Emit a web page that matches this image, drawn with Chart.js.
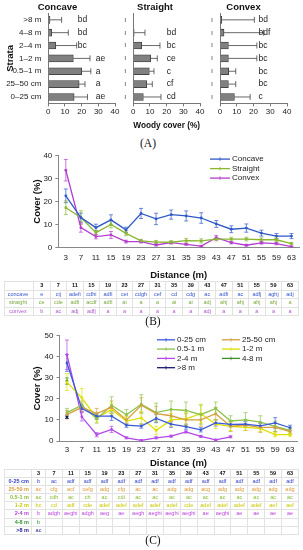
<!DOCTYPE html>
<html>
<head>
<meta charset="utf-8">
<script src="https://cdn.jsdelivr.net/npm/chart.js@4.4.1/dist/chart.umd.min.js"></script>
<style>
  body { margin: 0; background: #fff; font-family: "Liberation Sans", Arial, sans-serif; }
  #page { position: relative; width: 303px; height: 550px; overflow: hidden; background: #fff; }
  canvas { position: absolute; }
  .tag { position: absolute; left: 0; font-family: "Liberation Serif", serif; font-size: 11.5px; line-height: 14px; color: #111; text-align: center; }
  table { position: absolute; border-collapse: collapse; table-layout: fixed; font-size: 5.5px; }
  td { border: 1px solid #e2e2e2; padding: 0; text-align: center; white-space: nowrap; overflow: hidden; }
  th { font-weight: bold; }
</style>
</head>
<body>
<div id="page">
  <canvas id="concave" width="125" height="120" style="left:0;top:0"></canvas>
  <canvas id="straight" width="100" height="132" style="left:110px;top:0"></canvas>
  <canvas id="convex" width="103" height="120" style="left:200px;top:0"></canvas>
  <div class="tag" style="top:136px;width:296px">(A)</div>
  <canvas id="slopeLines" width="303" height="134" style="left:0;top:148px"></canvas>
  <table id="tableB" style="left:4px;top:281px;width:294px"></table>
  <div class="tag" style="top:314px;width:306px">(B)</div>
  <canvas id="strataLines" width="303" height="141" style="left:0;top:328px"></canvas>
  <table id="tableC" style="left:4px;top:469px;width:294px"></table>
  <div class="tag" style="top:533px;width:306px">(C)</div>
</div>
<script>
// ---- (A) woody cover by strata ----
const strata = ['>8 m', '4–8 m', '2–4 m', '1–2 m', '0.5–1 m', '25–50 cm', '0–25 cm'];
const concaveWoody = [1, 2, 4.5, 15, 20, 18.5, 15.5];
const concaveWoodySE = [7, 10, 12.5, 10, 5.5, 3.5, 8];
const concaveLetters = ['bd', 'bd', 'bc', 'ae', 'a', 'a', 'ae'];
const straightWoody = [0, 0.5, 5, 10.4, 9.6, 8, 6];
const straightWoodySE = [0, 6.5, 11, 4, 2.8, 3.4, 10.6];
const straightLetters = ['', 'bd', 'bc', 'ce', 'c', 'cf', 'cd'];
const convexWoody = [1, 2.4, 5, 5, 5.2, 5, 8.6];
const convexWoodySE = [19.5, 23.6, 17, 17, 4.2, 4.4, 9.4];
const convexLetters = ['bd', 'bdf', 'bc', 'bc', 'bc', 'bc', 'c'];
const woodyTicks = [0, 10, 20, 30, 40];

// ---- (B) cover by slope shape along distance ----
const distances = ['3', '7', '11', '15', '19', '23', '27', '31', '35', '39', '43', '47', '51', '55', '59', '63'];
const slopeNames = ['Concave', 'Straight', 'Convex'];
const concaveCover = [22.5, 13, 8.6, 12, 7.6, 14.8, 12.4, 14.3, 13.7, 12.8, 10.2, 7.9, 8.4, 6.2, 4.9, 4.9];
const concaveSE = [3, 2, 1.5, 2.2, 1.2, 2.2, 2.5, 2, 2.2, 2.3, 1.5, 1.5, 1.8, 1.3, 1.1, 1.1];
const straightCover = [17.3, 13, 6.4, 10, 6.1, 2.8, 2.3, 2.2, 2.9, 2.8, 3.6, 3.6, 3.6, 3.3, 3.3, 1.6];
const straightSE = [3, 3, 1, 1.5, 1, 0.7, 0.7, 0.7, 1, 0.9, 0.8, 0.8, 0.8, 0.8, 0.8, 0.5];
const convexCover = [33.7, 8.6, 4.7, 5.4, 2.5, 2.5, 1, 2, 1.3, 0.5, 4.2, 2, 0.9, 1.9, 1.6, 0.3];
const convexSE = [4.7, 2, 1, 1.5, 0.6, 0.6, 0.4, 0.5, 0.4, 0.3, 1, 0.5, 0.4, 0.5, 0.5, 0.2];
const tableBNames = ['concave', 'straight', 'convex'];
const tableBConcave = ['e', 'cij', 'adefi', 'cdhi', 'adfi', 'cei', 'cdgh', 'cef', 'cd', 'cdg', 'ac', 'adfi', 'ac', 'adfj', 'aghj', 'adj'];
const tableBStraight = ['ce', 'cde', 'adfi', 'acdf', 'adfi', 'ai', 'a', 'a', 'ai', 'ai', 'adj', 'ahj', 'ahj', 'ahj', 'ahj', 'a'];
const tableBConvex = ['b', 'ac', 'adj', 'adfj', 'a', 'a', 'a', 'a', 'a', 'a', 'adj', 'a', 'a', 'a', 'a', 'a'];

// ---- (C) cover by stratum along distance ----
const strataNames = ['0-25 cm', '25-50 cm', '0.5-1 m', '1-2 m', '2-4 m', '4-8 m', '>8 m'];
const cover0to25 = [37.1, 15.4, 11.8, 11.8, 7.5, 7.1, 10.7, 8, 6.8, 5.3, 8.6, 7.9, 8, 7.2, 8.6, 6.3];
const se0to25 = [4, 1.5, 1.5, 2, 1, 1, 2, 1.5, 1.2, 1, 1.5, 1.2, 1.2, 1.2, 2.5, 1.2];
const cover25to50 = [12.5, 16, 13, 16, 10, 17, 13, 12, 10, 10, 13, 7, 7.5, 6.5, 6.5, 4.5];
const se25to50 = [2, 2, 2.5, 3, 2, 3.5, 3.5, 3, 3, 3, 3, 2.5, 2.5, 2.5, 2, 1.5];
const cover05to1 = [13.5, 17, 10.5, 17, 12.5, 17.5, 13.5, 15, 14.5, 12.5, 15.5, 9.5, 10, 9, 7, 5];
const se05to1 = [2, 2, 2, 4, 2.5, 4.5, 4.5, 4, 4, 4.5, 3, 2.5, 3.5, 3, 2.5, 1.5];
const cover1to2 = [28, 20.5, 11, 15, 9.5, 11, 5, 10, 10.5, 13, 8, 7, 6.5, 6, 3, 3];
const se1to2 = [4, 4.5, 2, 3, 2, 3, 2, 3, 3, 4.5, 2, 2, 1.5, 1.5, 1, 0.8];
const cover2to4 = [41, 11.5, 3, 5.5, 1.5, 0.3, 1.5, 2.3, 4.3, 2.2, 0.5, 2];
const se2to4 = [7, 2, 1, 1.5, 0.5, 0.3, 0.5, 0.5, 0.5, 0.5, 0.3, 0.5];
const cover4to8 = [28.5];
const se4to8 = [1.5];
const cover8up = [11.5];
const se8up = [0.8];
const tableCNames = ['0-25 cm', '25-50 m', '0.5-1 m', '1-2 m', '2-4 m', '4-8 m', '>8 m'];
const tableC0to25 = ['b', 'ac', 'adf', 'adf', 'adf', 'adf', 'adf', 'adf', 'adf', 'adf', 'adf', 'adf', 'adf', 'adf', 'adf', 'adf'];
const tableC25to50 = ['ac', 'cfg', 'acf', 'cefg', 'adg', 'cfg', 'ac', 'ac', 'adg', 'adg', 'acg', 'adg', 'adg', 'adg', 'adg', 'adg'];
const tableC05to1 = ['ac', 'cdh', 'ac', 'ch', 'ac', 'cdi', 'ac', 'ac', 'ac', 'ac', 'ac', 'ac', 'ac', 'ac', 'ac', 'ac'];
const tableC1to2 = ['bc', 'cd', 'adf', 'cde', 'adef', 'adef', 'adef', 'adef', 'adef', 'cde', 'adef', 'adef', 'adef', 'adef', 'aef', 'aef'];
const tableC2to4 = ['b', 'adgh', 'aeghi', 'adgh', 'aeg', 'ae', 'aegh', 'aeghi', 'aeghi', 'aeghi', 'ae', 'aeghi', 'ae', 'ae', 'ae', 'ae'];
const tableC4to8 = ['b'];
const tableC8up = ['ac'];

Chart.defaults.font.family = '"Liberation Sans", Arial, sans-serif';
Chart.defaults.color = '#222';

// one-sided error bar for horizontal bars
const barErrors = {
  id: 'barErrors',
  afterDatasetsDraw(chart) {
    const ctx = chart.ctx, xs = chart.scales.x;
    chart.data.datasets.forEach((ds, di) => {
      if (!ds.errors) return;
      ctx.save();
      ctx.strokeStyle = '#444';
      ctx.lineWidth = 0.8;
      chart.getDatasetMeta(di).data.forEach((bar, i) => {
        const se = ds.errors[i];
        if (!se) return;
        const x0 = xs.getPixelForValue(ds.data[i]);
        const x1 = xs.getPixelForValue(ds.data[i] + se);
        ctx.beginPath();
        ctx.moveTo(x0, bar.y); ctx.lineTo(x1, bar.y);
        ctx.moveTo(x1, bar.y - 3); ctx.lineTo(x1, bar.y + 3);
        ctx.stroke();
      });
      ctx.restore();
    });
  }
};

// significance letters, put in the first column that clears the error bar
const barLetters = {
  id: 'barLetters',
  afterDatasetsDraw(chart) {
    const ctx = chart.ctx, xs = chart.scales.x;
    chart.data.datasets.forEach((ds, di) => {
      if (!ds.letters) return;
      const cols = ds.letterCols;
      ctx.save();
      ctx.font = '8.5px "Liberation Sans", Arial';
      ctx.fillStyle = '#222';
      ctx.textBaseline = 'middle';
      chart.getDatasetMeta(di).data.forEach((bar, i) => {
        const reach = ds.data[i] + (ds.errors ? ds.errors[i] : 0) + 0.5;
        const col = cols.find(c => c >= reach) ?? cols[cols.length - 1];
        ctx.fillText(ds.letters[i], xs.getPixelForValue(col), bar.y);
      });
      ctx.restore();
    });
  }
};

// +/- error bars on line points
const lineErrors = {
  id: 'lineErrors',
  beforeDatasetsDraw(chart) {
    const ctx = chart.ctx, ys = chart.scales.y;
    chart.data.datasets.forEach((ds, di) => {
      if (!ds.errors) return;
      ctx.save();
      ctx.strokeStyle = ds.borderColor;
      ctx.lineWidth = 0.7;
      chart.getDatasetMeta(di).data.forEach((pt, i) => {
        const v = ds.data[i], e = ds.errors[i];
        if (v == null || !e) return;
        const y0 = ys.getPixelForValue(Math.max(0, v - e));
        const y1 = ys.getPixelForValue(v + e);
        ctx.beginPath();
        ctx.moveTo(pt.x, y0); ctx.lineTo(pt.x, y1);
        ctx.moveTo(pt.x - 2, y0); ctx.lineTo(pt.x + 2, y0);
        ctx.moveTo(pt.x - 2, y1); ctx.lineTo(pt.x + 2, y1);
        ctx.stroke();
      });
      ctx.restore();
    });
  }
};

// legend drawn inside the plot area, in a grid
const insideLegend = {
  id: 'insideLegend',
  afterDraw(chart, args, o) {
    const ctx = chart.ctx, a = chart.chartArea;
    ctx.save();
    ctx.font = '8px "Liberation Sans", Arial';
    ctx.textBaseline = 'middle';
    chart.data.datasets.forEach((ds, i) => {
      const x = a.left + o.left + (i % o.cols) * o.colW;
      const y = a.top + o.top + Math.floor(i / o.cols) * o.rowH;
      ctx.strokeStyle = ds.borderColor;
      ctx.lineWidth = 1.3;
      ctx.beginPath(); ctx.moveTo(x, y); ctx.lineTo(x + o.lineW, y); ctx.stroke();
      ctx.lineWidth = 0.8;
      ctx.beginPath(); ctx.moveTo(x + o.lineW / 2, y - 1.8); ctx.lineTo(x + o.lineW / 2, y + 1.8); ctx.stroke();
      ctx.fillStyle = '#222';
      ctx.fillText(ds.label, x + o.lineW + 2, y);
    });
    ctx.restore();
  }
};

function woodyChart(id, title, values, se, letters, cfg) {
  new Chart(document.getElementById(id), {
    type: 'bar',
    data: {
      labels: strata,
      datasets: [{
        data: values, errors: se, letters: letters, letterCols: cfg.letterCols,
        backgroundColor: '#808080', borderColor: '#333', borderWidth: 0.8, barThickness: 7
      }]
    },
    options: {
      indexAxis: 'y', responsive: false, animation: false,
      layout: { padding: { right: cfg.padRight } },
      plugins: {
        legend: { display: false }, tooltip: { enabled: false },
        title: { display: true, text: title, color: '#111', font: { size: 9.5, weight: 'bold' }, padding: { top: 2, bottom: 0 } }
      },
      scales: {
        x: {
          min: 0, max: 40,
          afterBuildTicks: s => { s.ticks = woodyTicks.map(v => ({ value: v })); },
          ticks: { font: { size: 8 }, color: '#222', padding: 1 },
          grid: { display: true, drawOnChartArea: false, tickLength: 3, color: '#777' },
          border: { color: '#777' },
          title: { display: !!cfg.xTitle, text: cfg.xTitle, color: '#111', font: { size: 9, weight: 'bold' }, padding: { top: 0, bottom: 0.6 } },
          afterFit: s => { s.height = cfg.xHeight; }
        },
        y: {
          ticks: cfg.marks
            ? { callback: () => 'ı', font: { size: 7 }, color: '#444', padding: 7 }
            : { font: { size: 8 }, color: '#222', padding: 7 },
          grid: { display: false, drawTicks: false },
          border: { color: '#777' },
          title: { display: !!cfg.yTitle, text: cfg.yTitle, color: '#111', font: { size: 9.5, weight: 'bold' }, padding: { top: 4.3, bottom: 0 } },
          afterFit: s => { s.width = cfg.yWidth; }
        }
      }
    },
    plugins: [barErrors, barLetters]
  });
}

woodyChart('concave', 'Concave', concaveWoody, concaveWoodySE, concaveLetters,
  { yWidth: 48.3, padRight: 10, xHeight: 16.6, yTitle: 'Strata', letterCols: [17.6, 28.4] });
woodyChart('straight', 'Straight', straightWoody, straightWoodySE, straightLetters,
  { yWidth: 23.3, padRight: 10, xHeight: 28.6, marks: true, xTitle: 'Woody cover (%)', letterCols: [20] });
woodyChart('convex', 'Convex', convexWoody, convexWoodySE, convexLetters,
  { yWidth: 20, padRight: 16, xHeight: 16.6, marks: true, letterCols: [23] });

function coverChart(id, datasets, cfg) {
  new Chart(document.getElementById(id), {
    type: 'line',
    data: { labels: distances, datasets: datasets },
    options: {
      responsive: false, animation: false,
      layout: { padding: { top: cfg.padTop, right: cfg.padRight } },
      plugins: { legend: { display: false }, tooltip: { enabled: false }, insideLegend: cfg.legend },
      elements: { line: { borderWidth: 1.3, tension: 0 }, point: { radius: 1.4, borderWidth: 0 } },
      scales: {
        x: {
          offset: true,
          ticks: { font: { size: 8 }, color: '#222', padding: cfg.xTickPad, maxRotation: 0, autoSkip: false },
          grid: { display: false, drawTicks: false },
          border: { color: '#888' },
          title: { display: true, text: 'Distance (m)', color: '#111', font: { size: 9.5, weight: 'bold' }, padding: { top: 0, bottom: cfg.xTitlePad } },
          afterFit: s => { s.height = cfg.xHeight; }
        },
        y: {
          min: 0, max: cfg.yMax,
          ticks: { stepSize: 10, font: { size: 8 }, color: '#222', padding: 3 },
          grid: { display: true, drawOnChartArea: false, tickLength: 3, color: '#888' },
          border: { color: '#888' },
          title: { display: true, text: 'Cover (%)', color: '#111', font: { size: 9.5, weight: 'bold' }, padding: { top: 32, bottom: 0 } },
          afterFit: s => { s.width = cfg.yWidth; }
        }
      }
    },
    plugins: [lineErrors, insideLegend]
  });
}

function series(label, data, errors, color) {
  return { label, data, errors, borderColor: color, backgroundColor: color, pointBackgroundColor: color };
}

const slopeColors = ['#2f58c8', '#8ab72e', '#b43ed0'];
coverChart('slopeLines', [
  series(slopeNames[0], concaveCover, concaveSE, slopeColors[0]),
  series(slopeNames[1], straightCover, straightSE, slopeColors[1]),
  series(slopeNames[2], convexCover, convexSE, slopeColors[2])
], { padTop: 7.7, padRight: 3.8, yWidth: 58.3, xHeight: 34.7, xTickPad: 6, xTitlePad: 1.3, yMax: 40,
     legend: { left: 151.7, top: 3.3, rowH: 9.5, colW: 0, cols: 1, lineW: 20 } });

const strataColors = ['#3a5bd9', '#d4a040', '#8cc34a', '#dede00', '#b548e8', '#3f8f2f', '#141a6a'];
coverChart('strataLines', [
  series(strataNames[0], cover0to25, se0to25, strataColors[0]),
  series(strataNames[1], cover25to50, se25to50, strataColors[1]),
  series(strataNames[2], cover05to1, se05to1, strataColors[2]),
  series(strataNames[3], cover1to2, se1to2, strataColors[3]),
  series(strataNames[4], cover2to4, se2to4, strataColors[4]),
  series(strataNames[5], cover4to8, se4to8, strataColors[5]),
  series(strataNames[6], cover8up, se8up, strataColors[6])
], { padTop: 7, padRight: 5.5, yWidth: 59.5, xHeight: 28, xTickPad: 3.5, xTitlePad: 0, yMax: 50,
     legend: { left: 97.5, top: 4, rowH: 9.3, colW: 65, cols: 2, lineW: 18 } });

// ---- letter tables ----
function buildTable(id, names, rows, colors, widths, rowH, boldNames, nameAlign) {
  const t = document.getElementById(id);
  let html = '<colgroup>' + widths.map(w => `<col style="width:${w}px">`).join('') + '</colgroup>';
  const cell = (txt, style) => `<td style="height:${rowH}px;line-height:${rowH}px;${style}">${txt}</td>`;
  html += '<tr>' + cell('', '') + distances.map(d => cell(d, 'font-weight:bold;color:#111')).join('') + '</tr>';
  rows.forEach((r, i) => {
    html += '<tr>' + cell(names[i].replace('>', '&gt;'), `color:${colors[i]};text-align:${nameAlign};padding-right:2px;${boldNames ? 'font-weight:bold' : ''}`) +
      distances.map((d, j) => cell(r[j] || '', `color:${colors[i]}`)).join('') + '</tr>';
  });
  t.innerHTML = html;
}

buildTable('tableB', tableBNames, [tableBConcave, tableBStraight, tableBConvex],
  ['#3355cc', '#77a83a', '#b055d0'], [29].concat(distances.map(() => 16.56)), 7.57, false, 'center');
buildTable('tableC', tableCNames, [tableC0to25, tableC25to50, tableC05to1, tableC1to2, tableC2to4, tableC4to8, tableC8up],
  ['#3344cc', '#dd9933', '#88bb33', '#c8c800', '#bb44dd', '#339933', '#222299'],
  [27, 14].concat(distances.slice(1).map(() => 16.87)), 7.1, true, 'right');
</script>
</body>
</html>
